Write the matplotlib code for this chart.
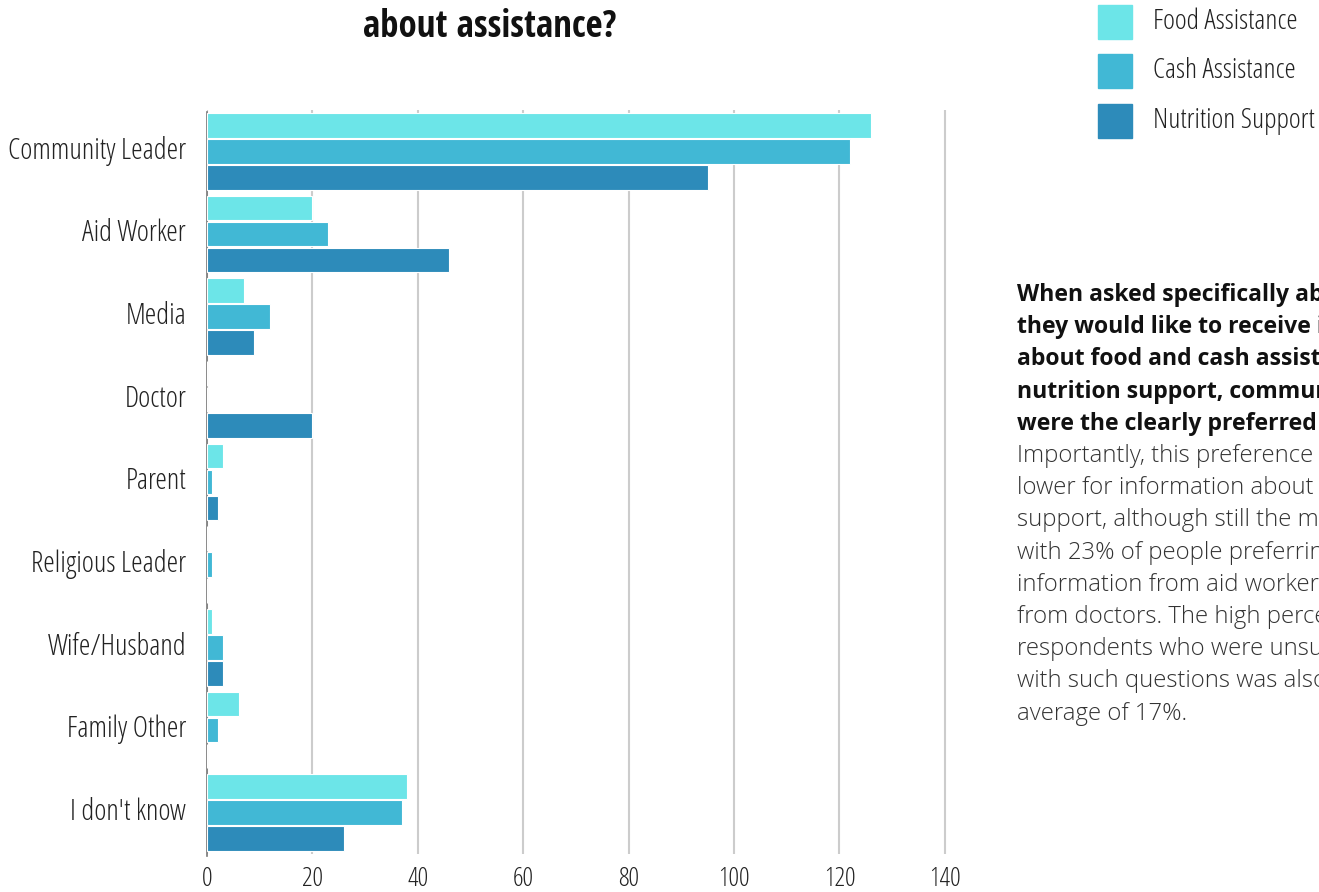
import matplotlib
matplotlib.use("Agg")
import matplotlib.pyplot as plt
from matplotlib import font_manager as fm
from matplotlib.font_manager import FontProperties
from matplotlib.transforms import ScaledTranslation
import numpy as np

# --- data -------------------------------------------------------------
categories = ["Community Leader", "Aid Worker", "Media", "Doctor", "Parent",
              "Religious Leader", "Wife/Husband", "Family Other", "I don't know"]
food_assistance = [126, 20, 7, 0, 3, 0, 1, 6, 38]
cash_assistance = [122, 23, 12, 0, 1, 1, 3, 2, 37]
nutrition_support = [95, 46, 9, 20, 2, 0, 3, 0, 26]
series_names = ["Food Assistance", "Cash Assistance", "Nutrition Support"]
x_ticks = [0, 20, 40, 60, 80, 100, 120, 140]

colors = ["#6CE5E8", "#41B8D5", "#2D8BBA"]


# --- fonts ------------------------------------------------------------
def find_font(prefix, weights, condensed, fallback=None):
    for w in weights:
        for f in fm.fontManager.ttflist:
            is_cond = "condensed" in str(f.stretch) or "Condensed" in f.fname
            if f.name.startswith(prefix) and f.weight == w and f.style == "normal" \
                    and "Italic" not in f.fname and is_cond == condensed \
                    and "Semi" not in f.fname:
                return f.fname
    return fallback


cond_light = find_font("Open Sans", [300], True,
                       find_font("Roboto Condensed", [300], True))
cond_bold = find_font("Open Sans", [700], True,
                      find_font("Roboto Condensed", [700], True))
sans_light = find_font("Open Sans", [300, 400], False)
sans_bold = find_font("Open Sans", [700], False)


def fp(path, size, family="DejaVu Sans", weight="normal"):
    if path:
        return FontProperties(fname=path, size=size)
    return FontProperties(family=family, size=size, weight=weight)


label_font = fp(cond_light, 21, "Roboto Condensed", "light")
legend_font = fp(cond_light, 20.5, "Roboto Condensed", "light")
tick_font = fp(cond_light, 19, "Roboto Condensed", "light")
title_font = fp(cond_bold, 26.5, "Roboto Condensed", "bold")
bold_font = fp(sans_bold, 16.6, "Open Sans", "bold")
light_font = fp(sans_light, 17.2, "Open Sans", "light")

# --- figure -----------------------------------------------------------
W, H = 1319, 892
fig = plt.figure(figsize=(W / 100, H / 100), dpi=100)
ax = fig.add_axes([207 / W, 1 - 854 / H, (947 - 207) / W, (854 - 110) / H])

y = np.arange(len(categories))
offset = 0.314
h = 0.30
for i, (vals, col) in enumerate(zip([food_assistance, cash_assistance, nutrition_support], colors)):
    ax.barh(y + (i - 1) * offset, vals, height=h, color=col, edgecolor="white",
            linewidth=0.8, zorder=3, label=series_names[i])

ax.set_xlim(0, 140.4)
ax.set_ylim(len(categories) - 0.5, -0.5)
ax.set_xticks(x_ticks)
ax.set_yticks(y)
ax.set_yticklabels(categories)
ax.grid(axis="x", color="#cccccc", linewidth=1.5, zorder=0)
ax.set_axisbelow(True)
for s in ["top", "right", "bottom"]:
    ax.spines[s].set_visible(False)
ax.spines["left"].set_color("#777777")
ax.spines["left"].set_linewidth(1.2)
ax.spines["left"].set_bounds(-0.47, len(categories) - 0.47)
ax.tick_params(axis="both", length=0, labelcolor="#222222")
ax.tick_params(axis="y", pad=15)
ax.tick_params(axis="x", pad=9.5)
lift = ScaledTranslation(0, 4 / 100, fig.dpi_scale_trans)
for lab in ax.get_yticklabels():
    lab.set_fontproperties(label_font)
    lab.set_transform(lab.get_transform() + lift)
for lab in ax.get_xticklabels():
    lab.set_fontproperties(tick_font)

# heading (second line)
fig.text(490 / W, 1 - 27 / H, "about assistance?", ha="center", va="center",
         fontproperties=title_font, color="#111111")

# legend drawn as squares with labels
leg_y = [22, 71, 121]
for name, col, yy in zip(series_names, colors, leg_y):
    fig.patches.append(plt.Rectangle((1098 / W, 1 - (yy + 17) / H), 34 / W, 34 / H,
                                     transform=fig.transFigure, color=col, figure=fig))
    fig.text(1153 / W, 1 - yy / H, name, ha="left", va="center",
             fontproperties=legend_font, color="#222222")

# commentary
bold_lines = ["When asked specifically about who",
              "they would like to receive information",
              "about food and cash assistance and",
              "nutrition support, community leaders",
              "were the clearly preferred source."]
plain_lines = ["Importantly, this preference was",
               "lower for information about nutrition",
               "support, although still the most popular,",
               "with 23% of people preferring",
               "information from aid workers and 9%",
               "from doctors. The high percentage of",
               "respondents who were unsure how to deal",
               "with such questions was also above the",
               "average of 17%."]
y0 = 295
step = 32.2
for k, line in enumerate(bold_lines):
    fig.text(1017 / W, 1 - (y0 + k * step) / H, line, ha="left", va="center",
             fontproperties=bold_font, color="#111111")
for k, line in enumerate(plain_lines):
    fig.text(1017 / W, 1 - (y0 + (k + len(bold_lines)) * step) / H, line, ha="left",
             va="center", fontproperties=light_font, color="#333333")

fig.savefig("out.png", dpi=100)
